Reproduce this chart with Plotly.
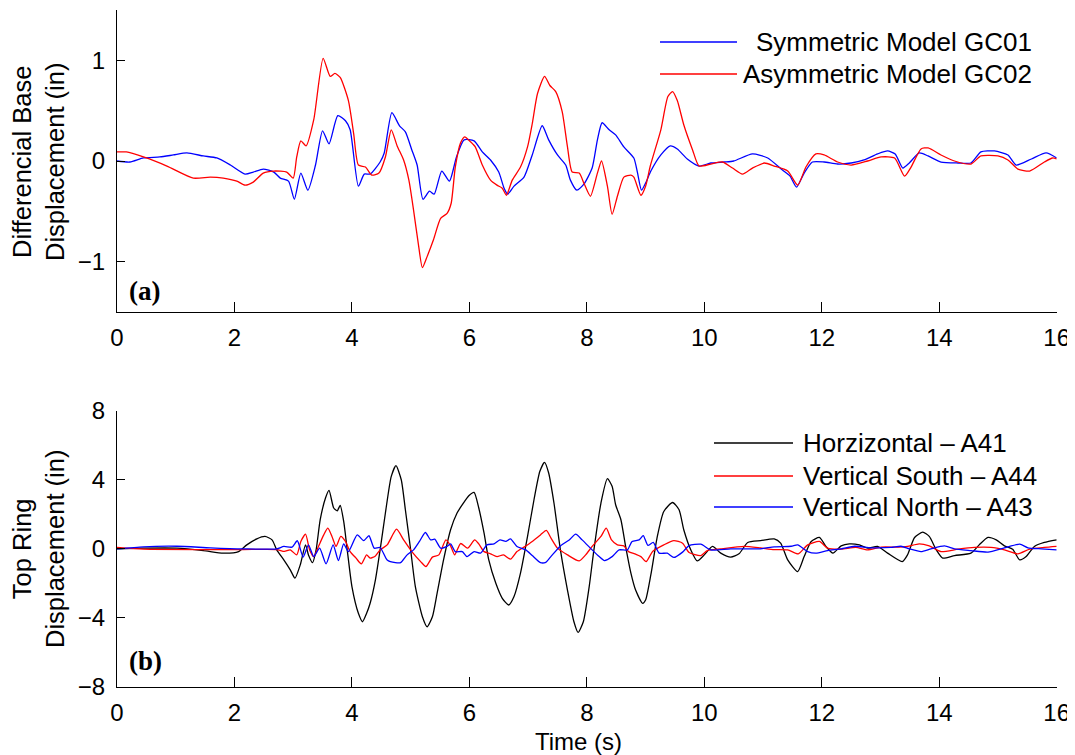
import plotly.graph_objects as go

# ---------------- Data ----------------
# (a) Differential base displacement (in)
t_gc01 = [0, 0.22, 0.45, 0.73, 0.96, 1.19, 1.47, 1.70, 1.93, 2.18, 2.32, 2.49, 2.67, 2.78, 2.92, 3.02, 3.13, 3.25, 3.38, 3.50,
          3.61, 3.76, 3.89, 3.97, 4.11, 4.21, 4.31, 4.48, 4.55, 4.68, 4.81, 4.91, 5.02, 5.11, 5.21, 5.32, 5.40, 5.53, 5.66, 5.78,
          5.91, 6.08, 6.22, 6.36, 6.50, 6.59, 6.65, 6.76, 6.93, 7.07, 7.24, 7.35, 7.50, 7.64, 7.72, 7.83, 7.95, 8.09, 8.18, 8.26,
          8.38, 8.49, 8.63, 8.80, 8.86, 8.93, 9.00, 9.09, 9.26, 9.42, 9.54, 9.71, 9.91, 10.11, 10.34, 10.50, 10.82, 11.08, 11.33, 11.46,
          11.57, 11.70, 11.84, 12.04, 12.27, 12.50, 12.72, 12.95, 13.12, 13.25, 13.38, 13.49, 13.66, 13.81, 14.03, 14.32, 14.54, 14.71, 14.94, 15.17,
          15.31, 15.57, 15.82, 16.0]
y_gc01 = [0.00, -0.01, 0.03, 0.04, 0.06, 0.08, 0.05, 0.03, -0.04, -0.13, -0.11, -0.08, -0.11, -0.17, -0.20, -0.38, -0.12, -0.29, -0.04, 0.30,
          0.17, 0.45, 0.40, 0.31, -0.25, -0.13, -0.13, -0.01, 0.08, 0.48, 0.35, 0.29, 0.11, -0.04, -0.38, -0.30, -0.33, -0.10, -0.20, 0.04,
          0.21, 0.20, 0.09, 0.01, -0.11, -0.27, -0.33, -0.25, -0.16, 0.06, 0.35, 0.21, 0.06, -0.04, -0.19, -0.29, -0.23, -0.07, 0.21, 0.38,
          0.31, 0.26, 0.14, 0.03, -0.11, -0.29, -0.22, -0.10, 0.06, 0.15, 0.12, 0.02, -0.05, -0.02, -0.01, 0.00, 0.07, 0.03, -0.09, -0.15,
          -0.26, -0.12, -0.01, -0.01, -0.03, -0.02, 0.01, 0.07, 0.10, 0.07, -0.07, -0.02, 0.08, 0.05, -0.01, -0.02, -0.02, 0.09, 0.10, 0.06,
          -0.04, 0.02, 0.08, 0.03]

t_gc02 = [0, 0.16, 0.45, 0.85, 1.30, 1.59, 1.81, 2.04, 2.18, 2.32, 2.49, 2.67, 2.89, 3.00, 3.06, 3.13, 3.22, 3.35, 3.51, 3.63,
          3.71, 3.80, 3.94, 4.03, 4.11, 4.23, 4.34, 4.46, 4.57, 4.67, 4.77, 4.88, 4.97, 5.05, 5.13, 5.20, 5.28, 5.39, 5.51, 5.62,
          5.69, 5.76, 5.85, 5.92, 6.02, 6.10, 6.22, 6.36, 6.47, 6.56, 6.63, 6.73, 6.87, 6.99, 7.07, 7.16, 7.28, 7.37, 7.47, 7.58,
          7.67, 7.75, 7.87, 7.95, 8.06, 8.18, 8.25, 8.35, 8.43, 8.52, 8.63, 8.75, 8.80, 8.92, 9.00, 9.08, 9.26, 9.38, 9.46, 9.54,
          9.65, 9.80, 9.91, 10.11, 10.31, 10.48, 10.65, 10.82, 11.02, 11.19, 11.42, 11.59, 11.73, 11.90, 12.04, 12.27, 12.50, 12.78, 13.01, 13.24,
          13.41, 13.52, 13.69, 13.81, 14.03, 14.26, 14.54, 14.71, 15.00, 15.17, 15.34, 15.54, 15.79, 15.93, 16.0]
y_gc02 = [0.09, 0.09, 0.04, -0.05, -0.17, -0.16, -0.17, -0.20, -0.24, -0.21, -0.12, -0.10, -0.11, -0.17, 0.04, 0.20, 0.15, 0.41, 1.02, 0.84,
          0.87, 0.83, 0.60, 0.27, -0.04, -0.06, -0.14, -0.12, 0.04, 0.31, 0.15, 0.01, -0.19, -0.49, -0.82, -1.06, -0.95, -0.78, -0.57, -0.52,
          -0.42, -0.06, 0.18, 0.24, 0.19, 0.14, -0.04, -0.19, -0.24, -0.27, -0.34, -0.19, -0.06, 0.14, 0.37, 0.67, 0.84, 0.75, 0.69, 0.49,
          0.14, -0.11, -0.12, -0.22, -0.35, -0.12, 0.00, -0.25, -0.53, -0.35, -0.16, -0.14, -0.16, -0.34, -0.25, -0.05, 0.31, 0.64, 0.69, 0.60,
          0.36, 0.11, -0.05, -0.03, -0.01, -0.07, -0.13, -0.07, -0.02, -0.05, -0.10, -0.24, -0.06, 0.07, 0.06, -0.01, -0.04, 0.00, 0.04, 0.03,
          -0.15, -0.06, 0.12, 0.13, 0.06, 0.00, -0.03, 0.05, 0.05, 0.01, -0.08, -0.10, -0.01, 0.03, 0.02]

# (b) Top ring displacement (in)
t_a41 = [0, 0.45, 1.02, 1.47, 1.81, 2.07, 2.21, 2.38, 2.52, 2.64, 2.72, 2.84, 2.95, 3.03, 3.12, 3.21, 3.26, 3.33, 3.39, 3.46,
         3.55, 3.61, 3.69, 3.75, 3.80, 3.86, 3.92, 4.00, 4.11, 4.18, 4.25, 4.31, 4.40, 4.48, 4.57, 4.67, 4.75, 4.84, 4.91, 5.00,
         5.08, 5.20, 5.28, 5.37, 5.45, 5.56, 5.68, 5.79, 5.88, 5.99, 6.08, 6.16, 6.25, 6.33, 6.45, 6.56, 6.67, 6.76, 6.87, 6.99,
         7.10, 7.20, 7.28, 7.35, 7.44, 7.55, 7.67, 7.78, 7.85, 7.94, 8.04, 8.12, 8.24, 8.35, 8.43, 8.49, 8.58, 8.66, 8.75, 8.83,
         8.95, 9.00, 9.09, 9.20, 9.31, 9.46, 9.57, 9.65, 9.77, 9.88, 10.00, 10.14, 10.28, 10.45, 10.59, 10.74, 10.96, 11.19, 11.30, 11.42,
         11.59, 11.70, 11.82, 11.96, 12.07, 12.19, 12.33, 12.47, 12.64, 12.78, 12.95, 13.12, 13.37, 13.46, 13.58, 13.72, 13.83, 13.95, 14.06, 14.26,
         14.54, 14.68, 14.83, 14.97, 15.11, 15.25, 15.37, 15.48, 15.62, 15.79, 16.0]
y_a41 = [0.00, 0.04, 0.04, -0.10, -0.25, -0.16, 0.23, 0.58, 0.72, 0.52, -0.06, -0.64, -1.22, -1.70, -0.93, 0.23, -0.35, -0.80, -0.06, 1.69,
         2.95, 3.39, 2.37, 2.21, 2.52, 1.59, -0.06, -2.19, -3.74, -4.23, -3.74, -3.16, -1.80, -0.06, 2.08, 4.21, 4.83, 4.01, 2.27, -0.06,
         -2.19, -3.94, -4.52, -3.94, -2.58, -0.64, 1.11, 2.08, 2.56, 3.08, 3.28, 2.37, 0.91, -0.64, -2.00, -2.87, -3.26, -2.77, -1.41, 0.72,
         2.85, 4.50, 5.02, 4.40, 2.66, -0.06, -2.39, -4.23, -4.85, -4.23, -2.19, -0.06, 2.66, 4.07, 3.63, 2.56, 1.69, 0.14, -1.41, -2.39,
         -3.16, -2.97, -1.50, 0.72, 2.17, 2.69, 2.27, 1.11, -0.06, -0.70, -0.35, 0.14, -0.25, -0.48, -0.29, 0.37, 0.48, 0.58, 0.33, -0.64,
         -1.32, -0.45, 0.43, 0.66, 0.14, -0.25, 0.17, 0.29, 0.23, 0.04, 0.14, -0.25, -0.74, -0.35, 0.66, 0.97, 0.72, -0.06, -0.54, -0.39,
         -0.25, 0.23, 0.66, 0.52, 0.17, -0.02, -0.64, -0.45, 0.14, 0.37, 0.52]

t_a44 = [0, 0.45, 1.59, 2.15, 2.72, 2.85, 2.95, 3.06, 3.13, 3.21, 3.28, 3.35, 3.43, 3.52, 3.59, 3.66, 3.73, 3.81, 3.89, 3.97,
         4.07, 4.16, 4.25, 4.31, 4.40, 4.48, 4.60, 4.76, 4.88, 5.02, 5.17, 5.26, 5.37, 5.48, 5.60, 5.68, 5.75, 5.85, 5.97, 6.09,
         6.16, 6.25, 6.36, 6.47, 6.58, 6.70, 6.81, 6.93, 7.07, 7.21, 7.31, 7.39, 7.50, 7.67, 7.87, 7.98, 8.09, 8.24, 8.33, 8.42,
         8.52, 8.63, 8.71, 8.83, 8.92, 9.01, 9.12, 9.31, 9.48, 9.63, 9.74, 9.94, 10.05, 10.28, 10.68, 10.96, 11.19, 11.42, 11.60, 11.76,
         11.96, 12.10, 12.33, 12.58, 12.78, 13.01, 13.30, 13.46, 13.66, 13.83, 14.03, 14.32, 14.60, 14.88, 15.11, 15.34, 15.54, 15.79, 16.0]
y_a44 = [0.08, -0.02, -0.04, -0.04, -0.04, -0.15, -0.06, -0.35, 0.43, 0.85, -0.06, -0.45, 0.14, 0.81, 1.20, 0.72, 0.14, 0.72, 0.43, -0.16,
         -0.54, -0.87, -0.35, -0.54, -0.41, -0.06, 0.23, 1.14, 0.52, -0.16, -0.74, -1.03, -0.48, -0.35, 0.52, 0.17, -0.35, 0.31, 0.04, 0.52,
         0.29, -0.16, -0.29, -0.45, -0.35, -0.60, -0.16, 0.10, 0.43, 0.81, 1.07, 0.62, 0.04, -0.35, -0.70, -0.35, 0.14, 0.72, 1.20, 0.52,
         0.23, 0.17, -0.16, -0.31, -0.45, -0.74, -0.15, 0.23, 0.48, 0.33, -0.21, -0.39, -0.10, 0.00, 0.14, 0.05, -0.04, -0.06, -0.29, 0.23,
         0.43, 0.04, -0.02, 0.08, -0.06, 0.10, 0.10, 0.14, 0.29, 0.17, -0.16, -0.02, 0.08, 0.08, -0.06, -0.29, -0.02, 0.08, 0.14]

t_a43 = [0, 0.45, 1.02, 1.59, 2.15, 2.72, 2.84, 2.98, 3.07, 3.17, 3.26, 3.35, 3.45, 3.56, 3.68, 3.77, 3.86, 3.94, 4.09, 4.20,
         4.29, 4.38, 4.48, 4.60, 4.74, 4.83, 4.94, 5.05, 5.15, 5.25, 5.34, 5.41, 5.51, 5.62, 5.68, 5.76, 5.88, 5.96, 6.08, 6.19,
         6.30, 6.42, 6.52, 6.62, 6.70, 6.81, 6.96, 7.07, 7.21, 7.30, 7.38, 7.55, 7.70, 7.81, 7.92, 8.09, 8.21, 8.30, 8.43, 8.55,
         8.69, 8.77, 8.89, 8.96, 9.04, 9.13, 9.23, 9.37, 9.48, 9.63, 9.74, 9.94, 10.11, 10.45, 10.96, 11.19, 11.48, 11.59, 11.76, 11.90,
         12.10, 12.33, 12.56, 12.84, 13.18, 13.35, 13.49, 13.69, 13.86, 14.09, 14.26, 14.54, 14.83, 15.11, 15.37, 15.51, 15.74, 16.0]
y_a43 = [0.00, 0.12, 0.15, 0.06, 0.00, 0.00, 0.14, 0.10, 0.47, -0.48, 0.23, -0.45, 0.04, -0.87, 0.23, -0.68, 0.29, -0.16, 0.81, 0.48,
         0.76, 0.04, 0.08, -0.64, -0.80, -0.80, -0.35, -0.06, 0.43, 0.95, 0.52, 0.56, 0.04, 0.14, 0.29, -0.16, -0.16, -0.45, -0.16, -0.25,
         0.23, 0.29, 0.52, 0.43, 0.58, 0.14, -0.06, -0.39, -0.80, -0.78, -0.48, 0.17, 0.52, 0.85, 0.52, -0.06, -0.45, -0.68, -0.45, -0.06,
         -0.06, 0.43, 0.52, 0.77, 0.20, 0.37, -0.25, -0.25, -0.50, -0.19, 0.19, 0.27, -0.06, 0.00, 0.00, 0.12, 0.15, 0.23, -0.16, -0.25,
         -0.10, 0.00, 0.15, 0.06, 0.08, 0.15, 0.00, -0.16, 0.00, 0.17, 0.00, -0.10, -0.19, 0.06, 0.27, 0.06, 0.00, -0.06]

x_ticks = [0, 2, 4, 6, 8, 10, 12, 14, 16]
a_ticks = [-1, 0, 1]
b_ticks = [-8, -4, 0, 4, 8]

# ---------------- Figure ----------------
OFF = 8                     # default page body margin
W, H = 1075 - OFF, 755 - OFF
FONT = "Liberation Sans, Arial, Helvetica, sans-serif"
FS = 24

def px(x):
    return (x - OFF) / W

def py(y):
    return 1 - (y - OFF) / H

fig = go.Figure()
LW = 1.3
sm = 0.6
fig.add_trace(go.Scatter(x=t_gc01, y=y_gc01, mode="lines", line=dict(color="#0000ff", width=LW, shape="spline", smoothing=sm),
                         xaxis="x", yaxis="y", showlegend=False))
fig.add_trace(go.Scatter(x=t_gc02, y=y_gc02, mode="lines", line=dict(color="#ff0000", width=LW, shape="spline", smoothing=sm),
                         xaxis="x", yaxis="y", showlegend=False))
fig.add_trace(go.Scatter(x=t_a41, y=y_a41, mode="lines", line=dict(color="#000000", width=LW, shape="spline", smoothing=sm),
                         xaxis="x2", yaxis="y2", showlegend=False))
fig.add_trace(go.Scatter(x=t_a44, y=y_a44, mode="lines", line=dict(color="#ff0000", width=LW, shape="spline", smoothing=sm),
                         xaxis="x2", yaxis="y2", showlegend=False))
fig.add_trace(go.Scatter(x=t_a43, y=y_a43, mode="lines", line=dict(color="#0000ff", width=LW, shape="spline", smoothing=sm),
                         xaxis="x2", yaxis="y2", showlegend=False))

xdom = [px(117), px(1056.7)]
axis_common = dict(showline=True, linecolor="black", linewidth=1, ticks="inside", tickcolor="black",
                   showgrid=False, zeroline=False, automargin=False,
                   tickfont=dict(family=FONT, size=FS, color="black"))

fig.update_layout(
    width=W, height=H,
    margin=dict(l=0, r=0, t=0, b=0, autoexpand=False),
    paper_bgcolor="white", plot_bgcolor="white",
    xaxis=dict(domain=xdom, range=[0, 16], tickvals=x_ticks, ticklen=10, anchor="y",
               ticklabelstandoff=4, **axis_common),
    yaxis=dict(domain=[py(312), py(10)], range=[-1.5, 1.5], tickvals=a_ticks, ticklen=8, anchor="x",
               ticklabelstandoff=6, **axis_common),
    xaxis2=dict(domain=xdom, range=[0, 16], tickvals=x_ticks, ticklen=10, anchor="y2",
                ticklabelstandoff=4, **axis_common),
    yaxis2=dict(domain=[py(686.7), py(411)], range=[-8, 8], tickvals=b_ticks, ticklen=8, anchor="x2",
                ticklabelstandoff=6, **axis_common),
)

ann = []
tfont = dict(family=FONT, size=25.5, color="black")
lfont = dict(family=FONT, size=26, color="black")
# y-axis titles
ann.append(dict(x=px(38), y=py(162), xref="paper", yref="paper", text="Differencial Base<br>Displacement (in)",
                textangle=-90, showarrow=False, font=tfont, xanchor="center", yanchor="middle"))
ann.append(dict(x=px(38), y=py(549), xref="paper", yref="paper", text="Top Ring<br>Displacement (in)",
                textangle=-90, showarrow=False, font=tfont, xanchor="center", yanchor="middle"))
# x-axis title
ann.append(dict(x=px(578), y=py(741), xref="paper", yref="paper", text="Time (s)",
                showarrow=False, font=dict(family=FONT, size=FS, color="black"), xanchor="center", yanchor="middle"))
# panel labels
pfont = dict(family="Liberation Serif, Times New Roman, serif", size=27, color="black")
ann.append(dict(x=px(127), y=py(291), xref="paper", yref="paper", text="<b>(a)</b>",
                showarrow=False, font=pfont, xanchor="left", yanchor="middle"))
ann.append(dict(x=px(127), y=py(661), xref="paper", yref="paper", text="<b>(b)</b>",
                showarrow=False, font=pfont, xanchor="left", yanchor="middle"))

# legends (manual)
shapes = []
leg_a = [("Symmetric Model GC01", "#0000ff", 42), ("Asymmetric Model GC02", "#ff0000", 74)]
for label, col, yy in leg_a:
    shapes.append(dict(type="line", xref="paper", yref="paper", x0=px(660), x1=px(737), y0=py(yy), y1=py(yy),
                       line=dict(color=col, width=LW)))
    ann.append(dict(x=px(1034), y=py(yy), xref="paper", yref="paper", text=label, showarrow=False,
                    font=lfont, xanchor="right", yanchor="middle"))
leg_b = [("Horzizontal \u2013 A41", "#000000", 443), ("Vertical South \u2013 A44", "#ff0000", 476),
         ("Vertical North \u2013 A43", "#0000ff", 507)]
for label, col, yy in leg_b:
    shapes.append(dict(type="line", xref="paper", yref="paper", x0=px(714), x1=px(793), y0=py(yy), y1=py(yy),
                       line=dict(color=col, width=LW)))
    ann.append(dict(x=px(801), y=py(yy), xref="paper", yref="paper", text=label, showarrow=False,
                    font=lfont, xanchor="left", yanchor="middle"))

fig.update_layout(annotations=ann, shapes=shapes)
fig.write_html("out.html")
